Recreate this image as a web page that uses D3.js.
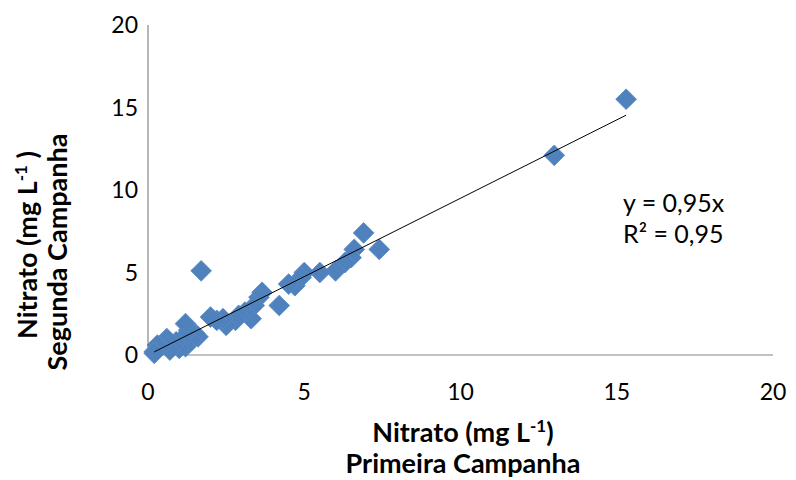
<!DOCTYPE html>
<html>
<head>
<meta charset="utf-8">
<script src="https://cdn.jsdelivr.net/npm/d3@7"></script>
<style>
  body { margin: 0; background: #fff; }
  text { font-family: Lato, "Open Sans", sans-serif; fill: #000; }
</style>
</head>
<body>
<div id="chart"></div>
<script>
const width = 796;
const height = 480;

// first campaign (x) vs second campaign (y), mg/L
const primeira = [15.3, 13.0, 6.9, 7.4, 6.6, 6.5, 6.3, 6.0, 5.5, 5.0, 4.9, 4.7, 4.5, 4.2, 3.65, 3.55, 3.4, 3.3, 3.1, 2.9, 2.8, 2.5, 2.4, 2.2, 2.0, 1.7, 1.6, 1.5, 1.4, 1.3, 1.2, 1.2, 1.1, 1.0, 0.9, 0.8, 0.7, 0.6, 0.5, 0.4, 0.3, 0.2, 0.2];
const segunda = [15.5, 12.1, 7.4, 6.4, 6.4, 5.9, 5.6, 5.1, 5.0, 5.0, 4.7, 4.2, 4.3, 3.0, 3.8, 3.5, 3.0, 2.2, 2.6, 2.4, 2.1, 1.8, 2.2, 2.1, 2.3, 5.1, 1.1, 1.3, 0.9, 1.5, 1.9, 0.5, 1.0, 0.4, 0.8, 0.5, 0.3, 1.0, 0.7, 0.5, 0.6, 0.2, 0.1];
const ticks = [0, 5, 10, 15, 20];
const slope = 0.95;
const eqLines = ['y = 0,95x', 'R² = 0,95'];

const points = primeira.map((x, i) => ({ x, y: segunda[i] }));

const svg = d3.select('#chart').append('svg')
  .attr('width', width)
  .attr('height', height);

const x = d3.scaleLinear().domain([0, 20]).range([148, 773]);
const y = d3.scaleLinear().domain([0, 20]).range([355, 25]);

// axis lines
svg.append('line')
  .attr('x1', x(0)).attr('x2', x(0))
  .attr('y1', y(20)).attr('y2', y(0))
  .attr('stroke', '#868686').attr('stroke-width', 1.2);
svg.append('line')
  .attr('x1', x(0)).attr('x2', x(20))
  .attr('y1', y(0)).attr('y2', y(0))
  .attr('stroke', '#868686').attr('stroke-width', 1.2);

// tick labels
svg.append('g').selectAll('text')
  .data(ticks)
  .join('text')
  .attr('x', 138)
  .attr('y', (d) => y(d))
  .attr('dy', '0.35em')
  .attr('text-anchor', 'end')
  .attr('font-size', 23)
  .text((d) => d);

svg.append('g').selectAll('text')
  .data(ticks)
  .join('text')
  .attr('x', (d) => x(d))
  .attr('y', 400)
  .attr('text-anchor', 'middle')
  .attr('font-size', 23)
  .text((d) => d);

// markers
svg.append('g').selectAll('path')
  .data(points)
  .join('path')
  .attr('d', d3.symbol().type(d3.symbolSquare).size(215))
  .attr('transform', (d) => `translate(${x(d.x)},${y(d.y)}) rotate(45)`)
  .attr('fill', '#4f81bd')
  .attr('stroke', '#5a8ac4')
  .attr('stroke-width', 0.8);

// trend line through origin
const xExt = d3.extent(primeira);
svg.append('line')
  .attr('x1', x(xExt[0])).attr('y1', y(slope * xExt[0]))
  .attr('x2', x(xExt[1])).attr('y2', y(slope * xExt[1]))
  .attr('stroke', '#000').attr('stroke-width', 1);

// equation
svg.append('g').selectAll('text')
  .data(eqLines)
  .join('text')
  .attr('x', 623)
  .attr('y', (d, i) => 212 + i * 31)
  .attr('font-size', 25)
  .text((d) => d);

// x title
const xt = svg.append('text')
  .attr('x', 463).attr('y', 442)
  .attr('text-anchor', 'middle')
  .attr('font-size', 27).attr('font-weight', 'bold');
xt.append('tspan').text('Nitrato (mg L');
xt.append('tspan').attr('font-size', 17).attr('dy', -10).text('-1');
xt.append('tspan').attr('dy', 10).text(')');
svg.append('text')
  .attr('x', 463).attr('y', 473)
  .attr('text-anchor', 'middle')
  .attr('font-size', 27).attr('font-weight', 'bold')
  .text('Primeira Campanha');

// y title
const yt = svg.append('text')
  .attr('transform', 'translate(37,245) rotate(-90)')
  .attr('text-anchor', 'middle')
  .attr('font-size', 27).attr('font-weight', 'bold');
yt.append('tspan').text('Nitrato (mg L');
yt.append('tspan').attr('font-size', 17).attr('dy', -10).text('-1');
yt.append('tspan').attr('dy', 10).text(' )');
svg.append('text')
  .attr('transform', 'translate(67,252) rotate(-90)')
  .attr('text-anchor', 'middle')
  .attr('font-size', 27).attr('font-weight', 'bold')
  .text('Segunda Campanha');
</script>
</body>
</html>
